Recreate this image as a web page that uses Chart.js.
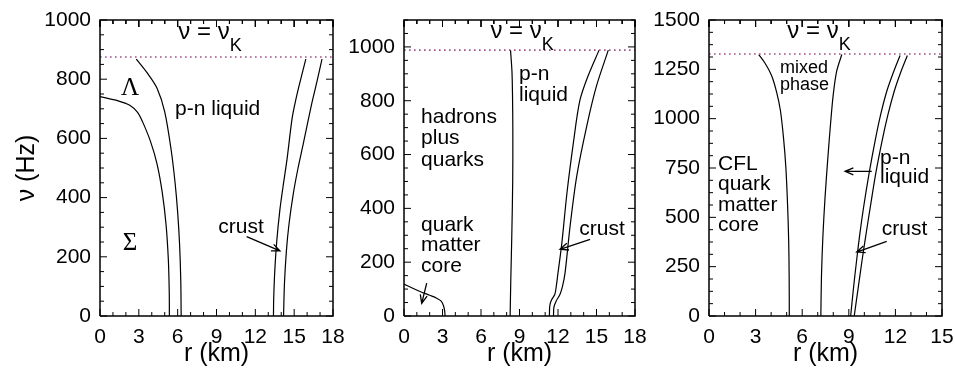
<!DOCTYPE html>
<html>
<head>
<meta charset="utf-8">
<script src="https://cdn.jsdelivr.net/npm/chart.js@4.4.1/dist/chart.umd.min.js"></script>
<style>
body{margin:0;background:#fff;width:955px;height:374px;position:relative;overflow:hidden}
canvas{position:absolute;top:0}
</style>
</head>
<body>
<canvas id="c1" width="345" height="374" style="left:0px;width:345px;height:374px"></canvas>
<canvas id="c2" width="302" height="374" style="left:345px;width:302px;height:374px"></canvas>
<canvas id="c3" width="308" height="374" style="left:647px;width:308px;height:374px"></canvas>
<script>
/* TICKS */
const xTicks1=[0,3,6,9,12,15,18]
const yTicks1=[0,200,400,600,800,1000]
const xTicks2=[0,3,6,9,12,15,18]
const yTicks2=[0,200,400,600,800,1000]
const xTicks3=[0,3,6,9,12,15]
const yTicks3=[0,250,500,750,1000,1250,1500]

/* KEPLER FREQUENCY */
const nuK1=875
const nuK2=988
const nuK3=1328

/* PANEL 1 CURVES [r km, nu Hz] */
const p1SigmaLambda=[[0,741],[1.4,727],[2.3,712],[2.9,688],[3.3,655],[3.9,590],[4.4,515],[4.8,420],[5.1,310],[5.28,190],[5.35,80],[5.36,0]]
const p1LambdaPn=[[2.8,868],[3.7,818],[4.4,770],[5.0,690],[5.5,560],[5.8,450],[6.0,350],[6.15,240],[6.24,120],[6.27,0]]
const p1CrustIn=[[15.9,868],[15.45,790],[15.15,735],[14.85,670],[14.45,530],[14.15,440],[13.9,360],[13.65,250],[13.5,150],[13.42,60],[13.4,0]]
const p1Surface=[[17.15,868],[16.75,790],[16.36,718],[15.71,583],[15.3,500],[14.94,415],[14.6,310],[14.4,220],[14.25,110],[14.18,0]]

/* PANEL 2 CURVES */
const p2Core=[[0,119],[0.6,105],[1.25,91],[2.0,77],[2.55,66],[2.9,55],[3.08,38],[3.17,18],[3.2,0]]
const p2HadronPn=[[8.3,988],[8.42,900],[8.48,700],[8.47,500],[8.4,300],[8.32,130],[8.27,0]]
const p2CrustIn=[[15.2,988],[14.35,893],[13.7,800],[13.2,644],[12.7,458],[12.3,271],[12.0,160],[11.85,105],[11.75,80],[11.5,60],[11.36,38],[11.33,0]]
const p2Surface=[[15.92,988],[15.0,855],[14.24,706],[13.46,520],[12.94,333],[12.55,160],[12.35,110],[12.15,80],[11.85,55],[11.68,32],[11.65,0]]

/* PANEL 3 CURVES */
const p3CflMixed=[[3.2,1325],[3.6,1282],[4.04,1216],[4.36,1132],[4.6,1040],[4.8,900],[4.95,750],[5.06,560],[5.13,380],[5.16,200],[5.17,0]]
const p3MixedPn=[[8.55,1325],[8.22,1241],[8.0,1123],[7.83,979],[7.65,800],[7.47,600],[7.33,400],[7.24,200],[7.2,0]]
const p3CrustIn=[[12.3,1320],[11.85,1230],[11.45,1140],[11.05,1020],[10.7,890],[10.3,720],[9.95,550],[9.7,410],[9.5,280],[9.3,140],[9.12,0]]
const p3Surface=[[12.77,1320],[12.32,1230],[11.93,1140],[11.52,1020],[11.15,890],[10.73,720],[10.38,550],[10.1,410],[9.85,280],[9.6,140],[9.35,0]]

/* LABELS (data coords) */
const p1Labels=[
{lines:['p-n liquid'],r:5.8,v:679},
{lines:['crust'],r:9.14,v:280},
{lines:['Λ'],r:2.32,v:747,serif:true},
{lines:['Σ'],r:2.32,v:223,serif:true}
]
const p1Arrows=[{from:[11.33,268],to:[13.9,220]}]
const p2Labels=[
{lines:['p-n','liquid'],r:8.96,v:878,lh:21},
{lines:['hadrons','plus','quarks'],r:1.33,v:719,lh:21.5},
{lines:['quark','matter','core'],r:1.33,v:317,lh:20.5},
{lines:['crust'],r:13.66,v:300}
]
const p2Arrows=[{from:[1.77,122],to:[1.38,47]},{from:[14.5,285],to:[12.16,248]}]
const p3Labels=[
{lines:['mixed','phase'],r:4.57,v:1233,lh:17.4,size:18},
{lines:['CFL','quark','matter','core'],r:0.58,v:742,lh:20.5},
{lines:['p-n','liquid'],r:11.01,v:772,lh:19},
{lines:['crust'],r:11.12,v:411}
]
const p3Arrows=[{from:[10.48,733],to:[8.76,733]},{from:[11.44,378],to:[9.51,324]}]

Chart.defaults.font.family="'Liberation Sans', Arial, sans-serif"
Chart.defaults.color='#000'

const PLOT_H=296
const pts=a=>a.map(p=>({x:p[0],y:p[1]}))
const curve=a=>({data:pts(a),showLine:true,pointRadius:0,borderColor:'#000',borderWidth:1.2,tension:0.3})

/* frame box and inward ticks as plain line segments on the panel's own scales */
function frameSet(cfg){
return {data:[{x:0,y:0},{x:cfg.xMax,y:0},{x:cfg.xMax,y:cfg.yMax},{x:0,y:cfg.yMax},{x:0,y:0}],
showLine:true,pointRadius:0,borderColor:'#000',borderWidth:1.5,tension:0,clip:false}
}
function tickSet(cfg){
const plotW=cfg.w-cfg.yW-cfg.padR
const dy=cfg.yMax/PLOT_H, dx=cfg.xMax/plotW
const d=[]
for(let v=0;v<=cfg.xMax+1e-6;v+=1){
let len=(cfg.xTicks.includes(v)?7:4)*dy
d.push({x:v,y:0},{x:v,y:len},{x:v,y:null})
d.push({x:v,y:cfg.yMax},{x:v,y:cfg.yMax-len},{x:v,y:null})
}
for(let v=0;v<=cfg.yMax+1e-6;v+=cfg.yMinor){
let len=(cfg.yTicks.includes(v)?7:4)*dx
d.push({x:0,y:v},{x:len,y:v},{x:len,y:null})
d.push({x:cfg.xMax,y:v},{x:cfg.xMax-len,y:v},{x:cfg.xMax,y:null})
}
return {data:d,showLine:true,spanGaps:false,pointRadius:0,borderColor:'#000',borderWidth:1,tension:0,clip:false}
}

/* TEXT + ARROWS */
function drawNotes(chart,cfg){
const {ctx,scales:{x,y}}=chart
ctx.save()
ctx.fillStyle='#000'
ctx.textBaseline='alphabetic'
ctx.textAlign='left'
ctx.font="24px 'Liberation Sans', Arial"
let w1=ctx.measureText('ν = ν').width
ctx.font="18px 'Liberation Sans', Arial"
let w2=ctx.measureText('K').width
let cx=x.getPixelForValue(cfg.kx)-(w1+w2)/2
let cy=y.getPixelForValue(cfg.kv)
ctx.font="24px 'Liberation Sans', Arial"
ctx.fillText('ν = ν',cx,cy)
ctx.font="18px 'Liberation Sans', Arial"
ctx.fillText('K',cx+w1,cy+12)
cfg.labels.forEach(l=>{
let size=l.size||(l.serif?25:21)
ctx.font=size+"px "+(l.serif?"'Liberation Serif', serif":"'Liberation Sans', Arial")
ctx.textAlign=l.serif?'center':'left'
let px=x.getPixelForValue(l.r),py=y.getPixelForValue(l.v)
l.lines.forEach((s,i)=>ctx.fillText(s,px,py+i*(l.lh||21)))
})
ctx.strokeStyle='#000'
ctx.lineWidth=1.3
cfg.arrows.forEach(ar=>{
let x0=x.getPixelForValue(ar.from[0]),y0=y.getPixelForValue(ar.from[1])
let x1=x.getPixelForValue(ar.to[0]),y1=y.getPixelForValue(ar.to[1])
let ang=Math.atan2(y1-y0,x1-x0)
ctx.beginPath()
ctx.moveTo(x0,y0);ctx.lineTo(x1,y1)
ctx.moveTo(x1-9*Math.cos(ang-0.4),y1-9*Math.sin(ang-0.4))
ctx.lineTo(x1,y1)
ctx.lineTo(x1-9*Math.cos(ang+0.4),y1-9*Math.sin(ang+0.4))
ctx.stroke()
})
ctx.restore()
}

function panel(id,cfg){
new Chart(document.getElementById(id),{
type:'scatter',
data:{datasets:[
frameSet(cfg),
tickSet(cfg),
{data:[{x:0,y:cfg.nuK},{x:cfg.xMax,y:cfg.nuK}],showLine:true,pointRadius:0,borderColor:'#a0508c',borderWidth:1.6,borderDash:[1.6,3.4]},
...cfg.curves.map(curve)
]},
options:{
responsive:false,animation:false,devicePixelRatio:1,
layout:{padding:{top:20,right:cfg.padR,left:0,bottom:0}},
plugins:{legend:{display:false},tooltip:{enabled:false}},
scales:{
x:{type:'linear',min:0,max:cfg.xMax,
afterBuildTicks:s=>{s.ticks=cfg.xTicks.map(v=>({value:v}))},
afterFit:s=>{s.height=58;s.paddingLeft=0;s.paddingRight=0},
grid:{display:false,drawTicks:false},border:{display:false},
ticks:{font:{size:21},padding:9,maxRotation:0,autoSkip:false,callback:v=>String(v)},
title:{display:true,text:'r (km)',font:{size:25},padding:{top:0,bottom:5}}},
y:{type:'linear',min:0,max:cfg.yMax,
afterBuildTicks:s=>{s.ticks=cfg.yTicks.map(v=>({value:v}))},
afterFit:s=>{s.width=cfg.yW;s.paddingTop=0;s.paddingBottom=0},
grid:{display:false,drawTicks:false},border:{display:false},
ticks:{font:{size:21},padding:9,autoSkip:false,callback:v=>String(v)},
title:{display:cfg.yTitle,text:'ν (Hz)',font:{size:25},padding:{top:12,bottom:0}}}
}
},
plugins:[{id:'decor',afterDraw(chart){drawNotes(chart,cfg)}}]
})
}

panel('c1',{w:345,xMax:18,yMax:1000,xTicks:xTicks1,yTicks:yTicks1,yMinor:50,nuK:nuK1,yW:100,padR:12,yTitle:true,
curves:[p1SigmaLambda,p1LambdaPn,p1CrustIn,p1Surface],labels:p1Labels,arrows:p1Arrows,kx:8.5,kv:936})
panel('c2',{w:302,xMax:18,yMax:1100,xTicks:xTicks2,yTicks:yTicks2,yMinor:50,nuK:nuK2,yW:59,padR:12,yTitle:false,
curves:[p2Core,p2HadronPn,p2CrustIn,p2Surface],labels:p2Labels,arrows:p2Arrows,kx:9.2,kv:1034})
panel('c3',{w:308,xMax:15,yMax:1500,xTicks:xTicks3,yTicks:yTicks3,yMinor:62.5,nuK:nuK3,yW:62,padR:13,yTitle:false,
curves:[p3CflMixed,p3MixedPn,p3CrustIn,p3Surface],labels:p3Labels,arrows:p3Arrows,kx:7.08,kv:1408})
</script>
</body>
</html>
